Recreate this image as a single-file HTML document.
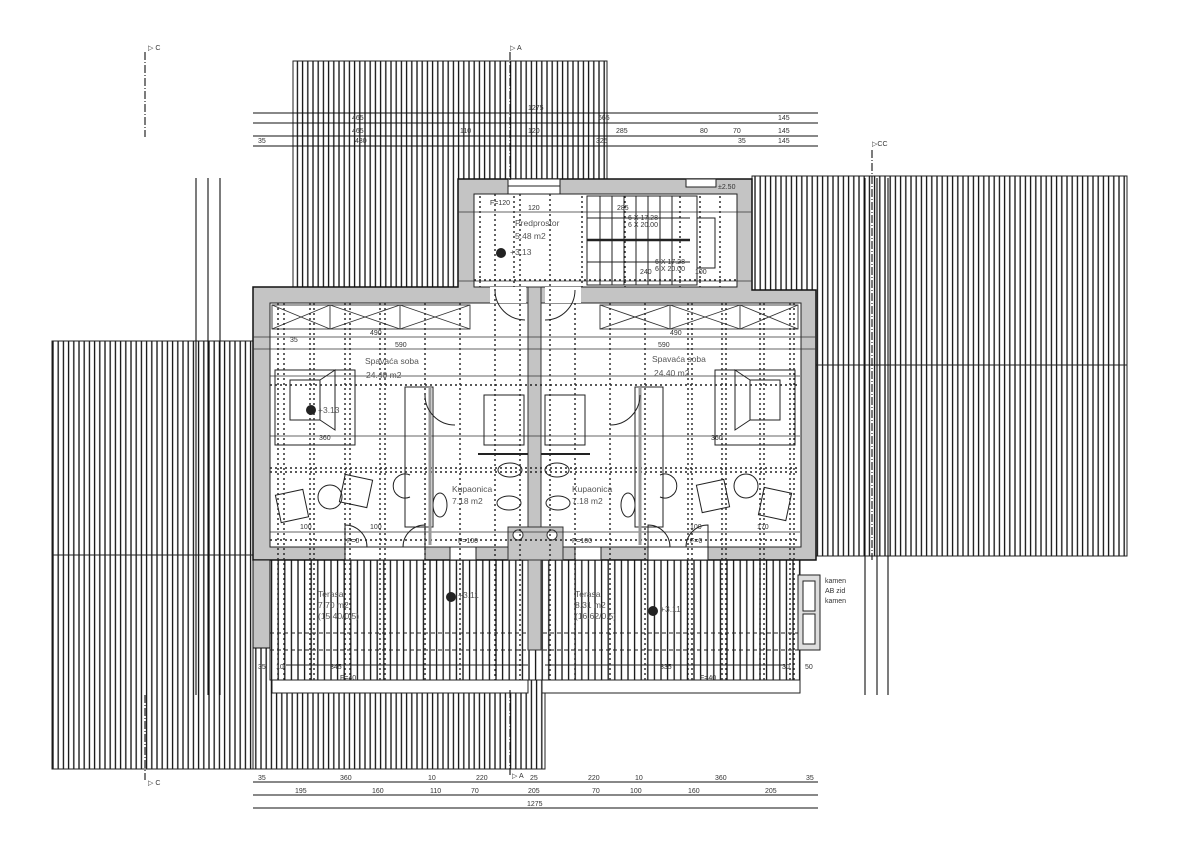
<!DOCTYPE html>
<html><head><meta charset="utf-8"><style>
html,body{margin:0;padding:0;background:#fff;}
svg{display:block;font-family:"Liberation Sans",sans-serif;}
text{font-size:7px;fill:#333;}
.big{font-size:8.5px;fill:#555;}
</style></head><body>
<svg width="1200" height="857" viewBox="0 0 1200 857" xmlns="http://www.w3.org/2000/svg">
<defs>
<pattern id="h" width="5.2" height="10" patternUnits="userSpaceOnUse"><rect width="5.2" height="10" fill="#fff"/><line x1="1" y1="0" x2="1" y2="10" stroke="#111" stroke-width="1.3"/></pattern>
<pattern id="h2" width="6.6" height="10" patternUnits="userSpaceOnUse"><rect width="6.6" height="10" fill="#fff"/><line x1="1" y1="0" x2="1" y2="10" stroke="#111" stroke-width="1.3"/></pattern>
</defs>
<rect width="1200" height="857" fill="#fff"/>

<rect x="293" y="61" width="314" height="230" fill="url(#h)" stroke="#222"/>
<rect x="752" y="176" width="375" height="380" fill="url(#h)" stroke="#222"/>
<line x1="752" y1="365" x2="1127" y2="365" stroke="#222"/>
<rect x="52" y="341" width="201" height="428" fill="url(#h)" stroke="#222"/>
<line x1="52" y1="555" x2="253" y2="555" stroke="#222"/>
<rect x="253" y="560" width="292" height="209" fill="url(#h)" stroke="#222"/>
<rect x="545" y="560" width="255" height="133" fill="url(#h)" stroke="#222"/>

<rect x="270" y="560" width="530" height="120" fill="url(#h2)" stroke="#222"/>
<rect x="272" y="680" width="256" height="13" fill="#fff" stroke="#222"/>
<rect x="542" y="680" width="258" height="13" fill="#fff" stroke="#222"/>
<line x1="270" y1="633" x2="800" y2="633" stroke="#222" stroke-dasharray="4,3"/>
<line x1="270" y1="650" x2="800" y2="650" stroke="#222" stroke-dasharray="4,3"/>
<line x1="286" y1="665" x2="528" y2="665" stroke="#222"/>
<line x1="545" y1="665" x2="785" y2="665" stroke="#222"/>

<polygon points="253,287 458,287 458,179 752,179 752,290 816,290 816,560 253,560" fill="#c4c4c4" stroke="#111" stroke-width="1.5"/>
<rect x="253" y="560" width="17" height="88" fill="#c4c4c4" stroke="#111"/>
<rect x="474" y="194" width="263" height="93" fill="#fff" stroke="#222"/>
<rect x="270" y="303" width="531" height="244" fill="#fff" stroke="#222"/>
<rect x="490" y="287" width="36" height="16" fill="#fff"/>
<rect x="545" y="287" width="36" height="16" fill="#fff"/>
<rect x="528" y="287" width="13" height="363" fill="#c4c4c4" stroke="#333"/>
<rect x="508" y="179" width="52" height="15" fill="#fff" stroke="#222"/>
<line x1="508" y1="186" x2="560" y2="186" stroke="#222"/>
<rect x="686" y="179" width="30" height="8" fill="#fff" stroke="#222"/>
<rect x="345" y="547" width="80" height="13" fill="#fff" stroke="#222"/>
<rect x="648" y="547" width="60" height="13" fill="#fff" stroke="#222"/>
<rect x="450" y="547" width="26" height="13" fill="#fff" stroke="#222"/>
<rect x="575" y="547" width="26" height="13" fill="#fff" stroke="#222"/>
<rect x="508" y="527" width="55" height="33" fill="#c4c4c4" stroke="#333"/>
<circle cx="518" cy="535" r="5" fill="#fff" stroke="#333"/>
<circle cx="552" cy="535" r="5" fill="#fff" stroke="#333"/>

<g stroke="#222" fill="none">
<rect x="587" y="196" width="110" height="89"/>
<line x1="587" y1="240" x2="690" y2="240" stroke-width="2.5"/>
<line x1="587" y1="218" x2="690" y2="218"/>
<line x1="587" y1="262" x2="690" y2="262"/>
<line x1="600" y1="196" x2="600" y2="285"/><line x1="612" y1="196" x2="612" y2="285"/><line x1="624" y1="196" x2="624" y2="285"/><line x1="636" y1="196" x2="636" y2="285"/><line x1="648" y1="196" x2="648" y2="285"/><line x1="660" y1="196" x2="660" y2="285"/><line x1="672" y1="196" x2="672" y2="285"/>
<rect x="697" y="218" width="18" height="50"/>
</g>

<g stroke="#333" fill="none" stroke-width="0.9">
<rect x="272" y="305" width="198" height="24"/>
<line x1="272" y1="305" x2="330" y2="329"/><line x1="330" y1="305" x2="272" y2="329"/>
<line x1="330" y1="305" x2="400" y2="329"/><line x1="400" y1="305" x2="330" y2="329"/>
<line x1="400" y1="305" x2="470" y2="329"/><line x1="470" y1="305" x2="400" y2="329"/>
<line x1="330" y1="305" x2="330" y2="329"/><line x1="400" y1="305" x2="400" y2="329"/>
<rect x="600" y="305" width="198" height="24"/>
<line x1="600" y1="305" x2="670" y2="329"/><line x1="670" y1="305" x2="600" y2="329"/>
<line x1="670" y1="305" x2="740" y2="329"/><line x1="740" y1="305" x2="670" y2="329"/>
<line x1="740" y1="305" x2="798" y2="329"/><line x1="798" y1="305" x2="740" y2="329"/>
<line x1="670" y1="305" x2="670" y2="329"/><line x1="740" y1="305" x2="740" y2="329"/>
</g>

<g stroke="#222" stroke-width="1.4" stroke-dasharray="2,3">
<line x1="278" y1="303" x2="278" y2="680"/><line x1="284" y1="303" x2="284" y2="680"/>
<line x1="310" y1="303" x2="310" y2="680"/><line x1="314" y1="303" x2="314" y2="680"/>
<line x1="345" y1="303" x2="345" y2="680"/><line x1="350" y1="303" x2="350" y2="680"/>
<line x1="380" y1="303" x2="380" y2="680"/><line x1="385" y1="303" x2="385" y2="680"/>
<line x1="425" y1="303" x2="425" y2="680"/><line x1="460" y1="303" x2="460" y2="680"/>
<line x1="495" y1="194" x2="495" y2="680"/><line x1="520" y1="194" x2="520" y2="680"/>
<line x1="550" y1="194" x2="550" y2="680"/><line x1="575" y1="303" x2="575" y2="680"/>
<line x1="610" y1="303" x2="610" y2="680"/><line x1="645" y1="303" x2="645" y2="680"/>
<line x1="688" y1="303" x2="688" y2="680"/><line x1="692" y1="303" x2="692" y2="680"/>
<line x1="722" y1="303" x2="722" y2="680"/><line x1="726" y1="303" x2="726" y2="680"/>
<line x1="760" y1="303" x2="760" y2="680"/><line x1="764" y1="303" x2="764" y2="680"/>
<line x1="790" y1="303" x2="790" y2="680"/><line x1="794" y1="303" x2="794" y2="680"/>
<line x1="480" y1="196" x2="480" y2="287"/><line x1="514" y1="196" x2="514" y2="287"/>
<line x1="582" y1="196" x2="582" y2="287"/><line x1="625" y1="196" x2="625" y2="287"/>
<line x1="680" y1="196" x2="680" y2="287"/><line x1="700" y1="196" x2="700" y2="287"/><line x1="720" y1="196" x2="720" y2="287"/>
<line x1="270" y1="385" x2="800" y2="385"/><line x1="270" y1="468" x2="800" y2="468"/>
<line x1="270" y1="472" x2="800" y2="472"/><line x1="270" y1="540" x2="800" y2="540"/>
<line x1="474" y1="280" x2="737" y2="280"/>
</g>
<g stroke="#333" stroke-width="0.8">
<line x1="253" y1="337" x2="816" y2="337"/><line x1="253" y1="349" x2="816" y2="349"/>
<line x1="270" y1="376" x2="800" y2="376"/><line x1="270" y1="436" x2="800" y2="436"/>
<line x1="270" y1="532" x2="800" y2="532"/><line x1="458" y1="212" x2="752" y2="212"/>
<line x1="458" y1="281" x2="752" y2="281"/>
</g>

<g stroke="#222" fill="none">
<rect x="405" y="387" width="28" height="140"/><rect x="635" y="387" width="28" height="140"/>
<line x1="430" y1="387" x2="430" y2="545" stroke-width="3" stroke="#999"/>
<line x1="640" y1="387" x2="640" y2="545" stroke-width="3" stroke="#999"/>
<rect x="484" y="395" width="40" height="50"/><rect x="545" y="395" width="40" height="50"/>
<line x1="478" y1="454" x2="528" y2="454" stroke-width="2"/><line x1="541" y1="454" x2="590" y2="454" stroke-width="2"/>
<ellipse cx="510" cy="470" rx="12" ry="7"/><ellipse cx="557" cy="470" rx="12" ry="7"/>
<ellipse cx="509" cy="503" rx="12" ry="7"/><ellipse cx="558" cy="503" rx="12" ry="7"/>
<ellipse cx="440" cy="505" rx="7" ry="12"/><ellipse cx="628" cy="505" rx="7" ry="12"/>
<path d="M410 475 a12 12 0 1 0 0 22"/><path d="M660 475 a12 12 0 1 1 0 22"/>
<path d="M425 395 a30 30 0 0 0 30 30"/><path d="M640 395 a30 30 0 0 1 -30 30"/>
<path d="M495 290 a30 30 0 0 0 30 30"/><path d="M575 290 a30 30 0 0 1 -30 30"/>
<rect x="275" y="370" width="80" height="75"/><path d="M290 380 h30 v40 h-30 z M320 380 l15 -10 v60 l-15 -10"/>
<rect x="715" y="370" width="80" height="75"/><path d="M780 380 h-30 v40 h30 z M750 380 l-15 -10 v60 l15 -10"/>
<rect x="278" y="492" width="28" height="28" transform="rotate(-12 292 506)"/>
<circle cx="330" cy="497" r="12"/>
<rect x="342" y="477" width="28" height="28" transform="rotate(12 356 491)"/>
<rect x="699" y="482" width="28" height="28" transform="rotate(-12 713 496)"/>
<circle cx="746" cy="486" r="12"/>
<rect x="761" y="490" width="28" height="28" transform="rotate(12 775 504)"/>
<path d="M345 547 v-22 a22 22 0 0 1 22 22"/><path d="M425 547 v-22 a22 22 0 0 0 -22 22"/>
<path d="M648 547 v-22 a22 22 0 0 1 22 22"/><path d="M708 547 v-22 a22 22 0 0 0 -22 22"/>
<rect x="798" y="575" width="22" height="75" fill="#ddd"/><rect x="803" y="581" width="12" height="30" fill="#fff"/><rect x="803" y="614" width="12" height="30" fill="#fff"/>
</g>
<g fill="#222"><circle cx="311" cy="410" r="5"/><circle cx="501" cy="253" r="5"/><circle cx="451" cy="597" r="5"/><circle cx="653" cy="611" r="5"/></g>

<g stroke="#111" stroke-width="1.1">
<line x1="253" y1="113" x2="818" y2="113"/><line x1="253" y1="123" x2="818" y2="123"/>
<line x1="253" y1="136" x2="818" y2="136"/><line x1="253" y1="146" x2="818" y2="146"/>
<line x1="253" y1="782" x2="818" y2="782"/><line x1="253" y1="795" x2="818" y2="795"/><line x1="253" y1="808" x2="818" y2="808"/>
<line x1="196" y1="178" x2="196" y2="695"/><line x1="208" y1="178" x2="208" y2="695"/><line x1="220" y1="178" x2="220" y2="695"/>
<line x1="865" y1="178" x2="865" y2="695"/><line x1="877" y1="178" x2="877" y2="695"/><line x1="888" y1="178" x2="888" y2="695"/>
<line x1="145" y1="52" x2="145" y2="137" stroke-dasharray="8,2,1,2"/>
<line x1="145" y1="695" x2="145" y2="780" stroke-dasharray="8,2,1,2"/>
<line x1="510" y1="52" x2="510" y2="180" stroke-dasharray="8,2,1,2"/>
<line x1="510" y1="690" x2="510" y2="775" stroke-dasharray="8,2,1,2"/>
<line x1="872" y1="150" x2="872" y2="560" stroke-dasharray="8,2,1,2"/>
</g>
<g>
<text x="148" y="50" font-size="9">▷ C</text><text x="148" y="785" font-size="9">▷ C</text>
<text x="510" y="50" font-size="9">▷ A</text><text x="512" y="778" font-size="9">▷ A</text>
<text x="872" y="146" font-size="9">▷CC</text>
<text x="528" y="110">1275</text><text x="352" y="120">465</text><text x="352" y="133">465</text><text x="355" y="143">430</text><text x="258" y="143">35</text>
<text x="460" y="133">110</text><text x="528" y="133">120</text><text x="598" y="120">665</text><text x="616" y="133">285</text><text x="700" y="133">80</text><text x="733" y="133">70</text><text x="778" y="120">145</text><text x="778" y="133">145</text><text x="778" y="143">145</text><text x="738" y="143">35</text><text x="596" y="143">325</text>
<text x="258" y="780">35</text><text x="340" y="780">360</text><text x="428" y="780">10</text><text x="476" y="780">220</text><text x="530" y="780">25</text><text x="588" y="780">220</text><text x="635" y="780">10</text><text x="715" y="780">360</text><text x="806" y="780">35</text>
<text x="295" y="793">195</text><text x="372" y="793">160</text><text x="430" y="793">110</text><text x="471" y="793">70</text><text x="528" y="793">205</text><text x="592" y="793">70</text><text x="630" y="793">100</text><text x="688" y="793">160</text><text x="765" y="793">205</text>
<text x="527" y="806">1275</text>
<text x="290" y="342">35</text><text x="370" y="335">490</text><text x="395" y="347">590</text><text x="670" y="335">490</text><text x="658" y="347">590</text>
<text x="319" y="440">360</text><text x="711" y="440">360</text><text x="300" y="529">100</text><text x="370" y="529">100</text><text x="690" y="529">100</text><text x="757" y="529">170</text>
<text x="347" y="543">F=0</text><text x="690" y="543">F=0</text><text x="458" y="543">F=100</text><text x="572" y="543">F=100</text>
<text x="490" y="205">F=120</text><text x="528" y="210">120</text><text x="617" y="210">285</text><text x="640" y="274">240</text><text x="695" y="274">100</text>
<text x="628" y="220">6 X 17.28</text><text x="628" y="227">6 X 20.00</text><text x="655" y="264">6 X 17.28</text><text x="655" y="271">6 X 20.00</text>
<text x="718" y="189">±2.50</text>
<text x="330" y="669">345</text><text x="660" y="669">335</text><text x="340" y="680">F=40</text><text x="700" y="680">F=40</text>
<text x="825" y="583">kamen</text><text x="825" y="593">AB zid</text><text x="825" y="603">kamen</text>
<text x="258" y="669">35</text><text x="276" y="669">10</text><text x="782" y="669">30</text><text x="805" y="669">50</text>
</g>
<g>
<text class="big" x="365" y="364">Spavaća soba</text><text class="big" x="366" y="378">24.40 m2</text>
<text class="big" x="652" y="362">Spavaća soba</text><text class="big" x="654" y="376">24.40 m2</text>
<text class="big" x="515" y="226">Predprostor</text><text class="big" x="515" y="239">5.48 m2</text><text class="big" x="510" y="255">+3.13</text>
<text class="big" x="318" y="413">+3.13</text>
<text class="big" x="452" y="492">Kupaonica</text><text class="big" x="452" y="504">7.18 m2</text>
<text class="big" x="572" y="492">Kupaonica</text><text class="big" x="572" y="504">7.18 m2</text>
<text class="big" x="318" y="597">Terasa</text><text class="big" x="318" y="608">7.70 m2</text><text class="big" x="318" y="619">(15.40/0.5)</text>
<text class="big" x="575" y="597">Terasa</text><text class="big" x="575" y="608">8.31 m2</text><text class="big" x="575" y="619">(16.62/0.5)</text>
<text class="big" x="458" y="598">+3.11</text><text class="big" x="660" y="612">+3.11</text>
</g>
</svg>
</body></html>
